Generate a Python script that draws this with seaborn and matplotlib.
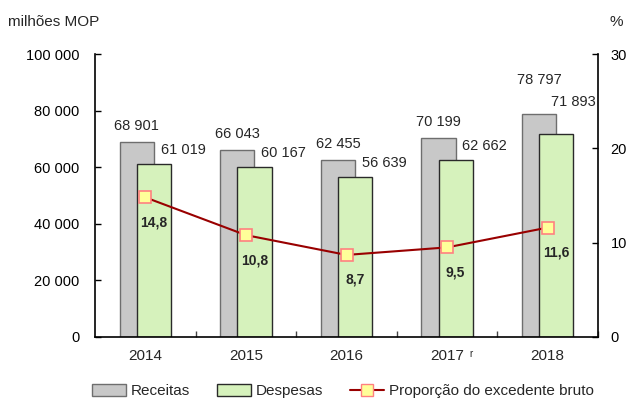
import numpy as np
import pandas as pd
import matplotlib
matplotlib.use("Agg")
import matplotlib.pyplot as plt
import matplotlib.ticker as mticker
from matplotlib.patches import Patch
from matplotlib.lines import Line2D
import seaborn as sns

years = ["2014", "2015", "2016", "2017", "2018"]
receitas = [68901, 66043, 62455, 70199, 78797]
despesas = [61019, 60167, 56639, 62662, 71893]
proporcao = [14.8, 10.8, 8.7, 9.5, 11.6]

grey = "#C8C8C8"
grey_edge = "#6E6E6E"
green = "#D6F2BC"
green_edge = "#2A2A2A"
line_col = "#990000"

sns.set_style("white")
plt.rcParams["font.family"] = ["Liberation Sans", "DejaVu Sans"]

def fmt_thousands(v):
    return f"{int(round(v)):,}".replace(",", " ")

fig = plt.figure(figsize=(6.27, 4.0), dpi=100)
ax = fig.add_axes([95 / 627, 1 - 337 / 400, 503 / 627, 283 / 400])

width = 0.34
shift = 0.085

df = pd.DataFrame({"ano": years, "Receitas": receitas, "Despesas": despesas})

sns.barplot(data=df, x="ano", y="Receitas", color=grey, width=width,
            saturation=1, edgecolor=grey_edge, linewidth=1, ax=ax)
n = len(years)
for p in ax.patches[:n]:
    p.set_x(p.get_x() - shift)
sns.barplot(data=df, x="ano", y="Despesas", color=green, width=width,
            saturation=1, edgecolor=green_edge, linewidth=1, ax=ax)
for p in ax.patches[n:]:
    p.set_x(p.get_x() + shift)

ax.set_xlim(-0.5, n - 0.5)
ax.set_ylim(0, 100000)
ax.set_yticks(np.arange(0, 100001, 20000))
ax.yaxis.set_major_formatter(mticker.FuncFormatter(lambda v, _: fmt_thousands(v)))
ax.set_xlabel("")
ax.set_ylabel("")
ax.tick_params(axis="y", left=True, direction="in", length=4, width=1,
               pad=11, labelsize=10.5, colors="black")
ax.tick_params(axis="x", which="major", bottom=False, length=0, pad=9, labelsize=11)
ax.set_xticks(np.arange(n) + 0.5, minor=True)
ax.tick_params(axis="x", which="minor", bottom=True, direction="in", length=4,
               width=1, color="#444444")

for s in ["left", "bottom"]:
    ax.spines[s].set_color("black")
    ax.spines[s].set_linewidth(1.2)
ax.spines["top"].set_visible(False)
ax.spines["right"].set_visible(False)

# value labels on bars
for i in range(n):
    extra = 13 if i == n - 1 else 0
    ax.annotate(fmt_thousands(receitas[i]), (i - shift, receitas[i]),
                xytext=(0, 11.5 + extra), textcoords="offset points",
                ha="center", va="center", fontsize=10.5)
    dx = 12 if i == n - 1 else 21
    ax.annotate(fmt_thousands(despesas[i]), (i + shift, despesas[i]),
                xytext=(dx, 10 + extra), textcoords="offset points",
                ha="center", va="center", fontsize=10.5)

# superscript r on 2017
ax.annotate("r", (3, 0), xycoords=("data", "axes fraction"),
            xytext=(17, -12), textcoords="offset points",
            ha="center", va="center", fontsize=7)

ax2 = ax.twinx()
sns.lineplot(x=np.arange(n), y=proporcao, color=line_col, linewidth=1.5,
             marker="s", markersize=8, markerfacecolor="#FFFF99",
             markeredgecolor="#FF8080", markeredgewidth=1.2, ax=ax2, sort=False)
ax2.set_ylim(0, 30)
ax2.set_yticks([0, 10, 20, 30])
ax2.tick_params(axis="y", right=True, direction="in", length=4, width=1,
                pad=9, labelsize=10.5, colors="black")
ax2.spines["right"].set_color("black")
ax2.spines["right"].set_linewidth(1.2)
ax2.spines["top"].set_visible(False)
ax2.spines["left"].set_visible(False)
ax2.spines["bottom"].set_visible(False)
ax2.set_xlim(-0.5, n - 0.5)

for i, v in enumerate(proporcao):
    ax2.annotate(f"{v:.1f}".replace(".", ","), (i + shift, v), xytext=(0, -18),
                 textcoords="offset points", ha="center", va="center",
                 fontsize=10, fontweight="bold")

fig.text(8 / 627, 1 - 22 / 400, "milhões MOP", ha="left", va="center", fontsize=11)
fig.text(616 / 627, 1 - 22 / 400, "%", ha="center", va="center", fontsize=11)

handles = [
    Patch(facecolor=grey, edgecolor=grey_edge, label="Receitas"),
    Patch(facecolor=green, edgecolor=green_edge, label="Despesas"),
    Line2D([0], [0], color=line_col, lw=1.5, marker="s", markersize=8,
           markerfacecolor="#FFFF99", markeredgecolor="#FF8080",
           label="Proporção do excedente bruto"),
]
fig.legend(handles=handles, loc="center", bbox_to_anchor=(343 / 627, 1 - 391 / 400),
           ncol=3, frameon=False, fontsize=11, handlelength=2.2,
           handleheight=0.8, handletextpad=0.3, columnspacing=1.8)

fig.savefig("out.png", dpi=100)
